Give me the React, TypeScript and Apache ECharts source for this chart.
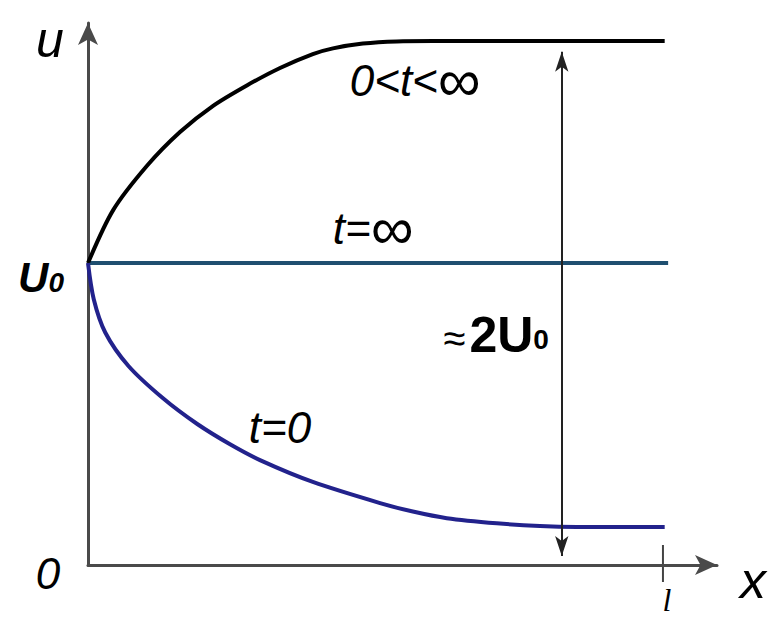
import React, { useEffect, useRef } from "react";
import * as echarts from "echarts";

// Non-dimensional coordinates: x in units of l, u in units of U0
const L = 1;
const U0 = 1;
const X_MAX = 1.094;
const Y_MAX = 1.795;

// 0 < t < ∞ curve (black)
const midX = [0, 0.044, 0.103, 0.16, 0.217, 0.277, 0.334, 0.391, 0.426, 0.478, 0.537, 0.6, 1.003];
const midY = [1.0, 1.176, 1.323, 1.434, 1.52, 1.589, 1.646, 1.692, 1.711, 1.727, 1.734, 1.735, 1.735];
// t = 0 curve (blue)
const initX = [0, 0.01, 0.03, 0.07, 0.13, 0.19, 0.247, 0.304, 0.391, 0.508, 0.565, 0.624, 0.711, 0.786, 0.85, 1.003];
const initY = [1.0, 0.88, 0.77, 0.66, 0.553, 0.467, 0.4, 0.343, 0.275, 0.205, 0.177, 0.155, 0.138, 0.129, 0.126, 0.126];
// t = ∞ (steady state)
const steadyX = [0, 1.009];
const steadyY = [U0, U0];
// ≈2U0 dimension arrow
const dimX = 0.824;
const dimY = [1.70, 0.03];

const zip = (xs: number[], ys: number[]) => xs.map((x, i) => [x, ys[i]]);

const BLUE = "#22228c";
const FONT = "'Liberation Sans', Arial, sans-serif";

export default function App() {
  const ref = useRef<HTMLDivElement>(null);
  useEffect(() => {
    if (!ref.current) return;
    const chart = echarts.init(ref.current, null, { renderer: "svg" });
    const axisCommon = {
      type: "value" as const,
      min: 0,
      axisLine: {
        show: true,
        symbol: ["none", "arrow"],
        symbolSize: [15, 22],
        lineStyle: { color: "#4a4a4a", width: 3 },
      },
      axisTick: { show: false },
      axisLabel: { show: false },
      splitLine: { show: false },
    };
    chart.setOption({
      animation: false,
      backgroundColor: "#ffffff",
      grid: { left: 88, right: 51, top: 23, bottom: 52 },
      xAxis: { ...axisCommon, max: X_MAX },
      yAxis: { ...axisCommon, max: Y_MAX },
      series: [
        {
          type: "line",
          data: zip(steadyX, steadyY),
          symbol: "none",
          lineStyle: { color: "#1f4f70", width: 4 },
          z: 2,
        },
        {
          type: "line",
          data: zip(midX, midY),
          symbol: "none",
          smooth: 0.3,
          lineStyle: { color: "#000000", width: 4 },
          z: 3,
        },
        {
          type: "line",
          data: zip(initX, initY),
          symbol: "none",
          smooth: 0.3,
          lineStyle: { color: BLUE, width: 4 },
          z: 3,
        },
        {
          type: "line",
          data: [],
          markLine: {
            silent: true,
            symbol: ["arrow", "arrow"],
            symbolSize: [10, 20],
            label: { show: false },
            lineStyle: { color: "#222", width: 2, type: "solid" },
            data: [[{ coord: [dimX, dimY[0]] }, { coord: [dimX, dimY[1]] }]],
          },
        },
      ],
    });

    const p = (x: number, y: number) => chart.convertToPixel({ gridIndex: 0 }, [x, y]) as number[];
    const txt = (pt: number[], dx: number, dy: number, text: string, rich: any, extra: any = {}) => ({
      type: "text",
      x: pt[0] + dx,
      y: pt[1] + dy,
      z: 10,
      ...extra,
      style: { text, rich, align: "center", verticalAlign: "middle", textAlign: "center", textVerticalAlign: "middle" },
    });
    const origin = p(0, 0);
    const lPt = p(L, 0);
    chart.setOption({
      graphic: [
        { type: "line", shape: { x1: lPt[0], y1: lPt[1] - 20, x2: lPt[0], y2: lPt[1] + 17 }, style: { stroke: "#444", lineWidth: 2 } },
        txt(p(0, Y_MAX), -38, 17, "{a|u}", { a: { fontFamily: FONT, fontStyle: "italic", fontSize: 50, color: BLUE } }),
        txt(p(0, U0), -47, 14, "{a|U}{b|0}", {
          a: { fontFamily: FONT, fontStyle: "italic", fontWeight: "bold", fontSize: 42, color: BLUE },
          b: { fontFamily: FONT, fontStyle: "italic", fontWeight: "bold", fontSize: 28, color: BLUE, padding: [10, 0, 0, 0] },
        }),
        txt(origin, -40, 8, "{a|0}", { a: { fontFamily: FONT, fontStyle: "italic", fontSize: 44, color: BLUE } }),
        txt(p(X_MAX, 0), 36, 15, "{a|x}", { a: { fontFamily: FONT, fontStyle: "italic", fontSize: 52, color: BLUE } }),
        txt(lPt, 4, 35, "{a|l}", { a: { fontFamily: "'Liberation Serif', serif", fontStyle: "italic", fontSize: 32, color: BLUE } }),
        txt(p(0.569, 1.606), 0, 0, "{a|0<t<}{b|∞}", {
          a: { fontFamily: FONT, fontStyle: "italic", fontSize: 44, color: "#000" },
          b: { fontFamily: FONT, fontSize: 60, color: "#000" },
        }),
        txt(p(0.496, 1.113), 0, 0, "{a|t=}{b|∞}", {
          a: { fontFamily: FONT, fontStyle: "italic", fontSize: 44, color: "#2d6a35" },
          b: { fontFamily: FONT, fontSize: 60, color: "#1d3a22" },
        }),
        txt(p(0.71, 0.762), 0, 0, "{c|≈}{a|2U}{b|0}", {
          c: { fontFamily: FONT, fontSize: 40, color: "#444", padding: [6, 4, 0, 0] },
          a: { fontFamily: FONT, fontWeight: "bold", fontSize: 50, color: "#000" },
          b: { fontFamily: FONT, fontWeight: "bold", fontSize: 28, color: "#000", padding: [10, 0, 0, 0] },
        }),
        txt(p(0.334, 0.454), 0, 0, "{a|t=0}", { a: { fontFamily: FONT, fontStyle: "italic", fontSize: 44, color: BLUE } }),
      ],
    });
    return () => chart.dispose();
  }, []);
  return <div ref={ref} style={{ position: "fixed", left: 0, top: 0, width: 768, height: 617 }} />;
}
